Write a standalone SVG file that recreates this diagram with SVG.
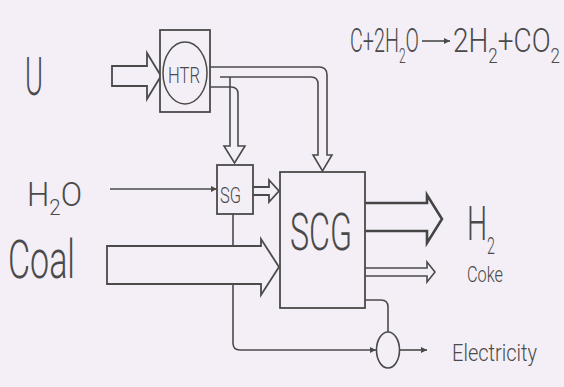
<svg xmlns="http://www.w3.org/2000/svg" width="564" height="387" viewBox="0 0 564 387">
<defs>
<style>
.ln{fill:none;stroke:#4a4a4a;stroke-width:1.6;stroke-linejoin:miter}
.thk{fill:none;stroke:#454545;stroke-width:2.6}
.bx{fill:#f4eff6;stroke:#4a4a4a;stroke-width:1.8}
.hol{fill:#f4eff6;stroke:#4a4a4a;stroke-width:1.8;stroke-linejoin:miter}
.t{font-family:Roboto,"Liberation Sans",Arial,sans-serif;font-weight:300;fill:#4a4a4a}
</style>
<marker id="ah" viewBox="0 0 10 10" refX="10" refY="5" markerWidth="8" markerHeight="6" markerUnits="userSpaceOnUse" orient="auto">
<path d="M0,0 L10,5 L0,10 z" fill="#4a4a4a"/>
</marker>
</defs>
<rect x="0" y="0" width="564" height="387" fill="#f4eff6"/>

<g id="labels">
<text class="t" x="25" y="95" font-size="53" textLength="18" lengthAdjust="spacingAndGlyphs">U</text>
<text class="t" x="27" y="206" font-size="34" textLength="55" lengthAdjust="spacingAndGlyphs">H<tspan font-size="22" dy="9">2</tspan><tspan dy="-9">O</tspan></text>
<text class="t" x="8" y="278" font-size="54" textLength="67" lengthAdjust="spacingAndGlyphs">Coal</text>
<text class="t" x="467" y="240" font-size="48" textLength="28" lengthAdjust="spacingAndGlyphs">H<tspan font-size="24" dy="14">2</tspan></text>
<text class="t" x="467" y="282" font-size="22" textLength="36" lengthAdjust="spacingAndGlyphs">Coke</text>
<text class="t" x="452" y="361" font-size="24" textLength="85" lengthAdjust="spacingAndGlyphs">Electricity</text>
</g>

<g id="equation">
<text class="t" x="350" y="52" font-size="33" textLength="69" lengthAdjust="spacingAndGlyphs">C+2H<tspan font-size="20" dy="11">2</tspan><tspan dy="-11">O</tspan></text>
<line x1="422" y1="41" x2="450" y2="41" stroke="#4a4a4a" stroke-width="1.6" marker-end="url(#ah)"/>
<text class="t" x="453" y="52" font-size="33" textLength="107" lengthAdjust="spacingAndGlyphs">2H<tspan font-size="20" dy="11">2</tspan><tspan dy="-11">+CO</tspan><tspan font-size="20" dy="11">2</tspan></text>
</g>

<g id="connectors">
<!-- U input -->
<path class="hol" d="M112,66 L147,66 L147,53 L161,76 L147,99 L147,86 L112,86 Z"/>
<!-- HTR to SCG pipe -->
<path class="ln" d="M210,67 L319,67 Q327,67 327,75 L327,155 L332,155 L322.5,171 L313,155 L318,155 L318,84 Q318,77 311,77 L220,77"/>
<!-- HTR to SG pipe -->
<path class="ln" d="M210,87 L231,87 Q238,87 238,94 L238,146 L245,146 L234.5,163 L224,146 L230,146 L230,77"/>
<!-- H2O line -->
<line class="ln" x1="110" y1="189" x2="217" y2="189" marker-end="url(#ah)"/>
<!-- SG to SCG -->
<path class="hol" d="M253,187 L269,187 L269,180 L279,191 L269,202 L269,195 L253,195"/>
<!-- SG to generator -->
<path class="ln" d="M233,214 L233,343 Q233,350 240,350 L376,350" marker-end="url(#ah)"/>
<!-- Coal -->
<path class="hol" d="M107,246 L261,246 L261,239 L279,267 L261,295 L261,284 L107,284 Z"/>
<!-- H2 output -->
<path class="thk" d="M365,203 L427,203 L427,195 L442,219 L427,243 L427,231 L365,231"/>
<!-- Coke output -->
<path class="ln" d="M365,268 L427,268 L427,262 L435,272 L427,282 L427,276 L365,276"/>
<!-- SCG to generator -->
<path class="ln" d="M365,300 L381,300 Q388,300 388,307 L388,332"/>
<!-- generator to Electricity -->
<line class="ln" x1="400" y1="350" x2="427" y2="350" marker-end="url(#ah)"/>
</g>

<g id="HTR">
<rect class="bx" x="160" y="30" width="50" height="82"/>
<ellipse cx="185" cy="73" rx="22" ry="31" fill="none" stroke="#4a4a4a" stroke-width="1.5"/>
<text class="t" x="168" y="83" font-size="22" textLength="32" lengthAdjust="spacingAndGlyphs">HTR</text>
</g>

<g id="SG">
<rect class="bx" x="217" y="165" width="36" height="49"/>
<text class="t" x="220" y="203" font-size="22" textLength="21" lengthAdjust="spacingAndGlyphs">SG</text>
</g>

<g id="SCG">
<rect class="bx" x="280" y="172" width="85" height="136" stroke-width="2.2"/>
<text class="t" x="290" y="250" font-size="52" textLength="62" lengthAdjust="spacingAndGlyphs">SCG</text>
</g>

<g id="generator">
<ellipse cx="388" cy="350" rx="11.5" ry="18" fill="#f4eff6" stroke="#4a4a4a" stroke-width="1.6"/>
</g>
</svg>
